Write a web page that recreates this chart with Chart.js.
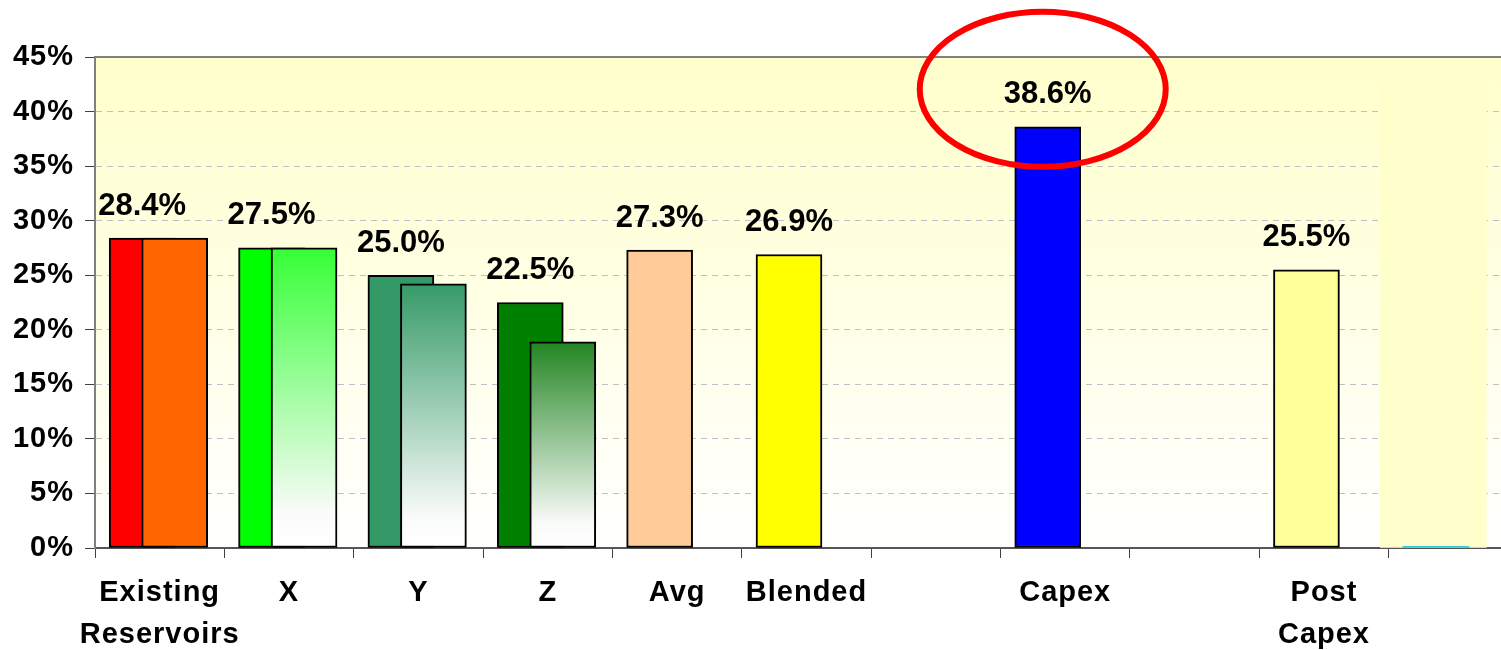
<!DOCTYPE html>
<html>
<head>
<meta charset="utf-8">
<script src="https://cdn.jsdelivr.net/npm/chart.js@4.4.1/dist/chart.umd.min.js"></script>
<style>
html,body{margin:0;padding:0;background:#fff;overflow:hidden;width:1501px;height:650px}
#wrap{width:1501px;height:650px;overflow:hidden;position:relative}
canvas{display:block}
</style>
</head>
<body>
<div id="wrap"><canvas id="c" width="1518" height="650"></canvas></div>
<script>
// ---- data ----
const categories = [['Existing','Reservoirs'], 'X', 'Y', 'Z', 'Avg', 'Blended', '', 'Capex', '', ['Post','Capex'], ''];
const primaryValues   = [28.4, 27.5, 25.0, 22.5, 27.3, 26.9, null, 38.6, null, 25.5, 0.15];
const secondaryValues = [28.4, 27.5, 24.2, 18.9, null, null, null, null, null, null, null];
const highlightValues = [null, null, null, null, null, null, null, null, null, null, 45];
const yTickValues = [0, 5, 10, 15, 20, 25, 30, 35, 40, 45];

// ---- styles ----
const primaryColors   = ['#FF0000', '#00FF00', '#339966', '#008000', '#FFCC99', '#FFFF00', '#000000', '#0000FF', '#000000', '#FFFF99', '#33CCCC'];
const primaryBorders  = [2, 2, 2, 2, 2, 2, 2, 2, 2, 2, 0];
const secondaryColors = ['#FF6600', '#36FF36', '#369A68', '#238523'];
const secondaryFade   = [false, true, true, true];

const FONT = "'Liberation Sans', Arial, Helvetica, sans-serif";
Chart.defaults.font.family = FONT;

function fadeFill(ctx) {
  const i = ctx.dataIndex;
  const base = secondaryColors[i] || '#000';
  if (!secondaryFade[i]) return base;
  const chart = ctx.chart;
  if (!chart.chartArea || !chart.scales.y) return base;
  const y = chart.scales.y;
  const top = y.getPixelForValue(secondaryValues[i]);
  const bottom = y.getPixelForValue(0);
  const g = chart.ctx.createLinearGradient(0, top, 0, bottom);
  g.addColorStop(0, base);
  g.addColorStop(0.88, '#F9FBF9');
  g.addColorStop(1, '#FFFFFF');
  return g;
}

const decorPlugin = {
  id: 'decor',
  beforeDraw(chart) {
    const {ctx, chartArea: a} = chart;
    ctx.save();
    const g = ctx.createLinearGradient(0, a.top, 0, a.bottom);
    g.addColorStop(0, '#FFFFCC');
    g.addColorStop(1, '#FFFFFF');
    ctx.fillStyle = g;
    ctx.fillRect(a.left, a.top, a.right - a.left, a.bottom - a.top);
    ctx.restore();
    ctx.letterSpacing = '1px';
  },
  afterDatasetsUpdate(chart) {
    chart.data.datasets.forEach((ds, i) => {
      const s = ds.xShift || 0;
      chart.getDatasetMeta(i).data.forEach(el => { el.x += s; });
    });
  },
  afterDatasetsDraw(chart) {
    const {ctx, chartArea: a} = chart;
    ctx.save();
    ctx.letterSpacing = '0px';
    // plot top border
    ctx.strokeStyle = '#808080';
    ctx.lineWidth = 2;
    ctx.beginPath();
    ctx.moveTo(a.left, a.top);
    ctx.lineTo(a.right, a.top);
    ctx.stroke();
    // value labels
    ctx.fillStyle = '#000';
    ctx.font = 'bold 31px ' + FONT;
    ctx.textAlign = 'center';
    ctx.textBaseline = 'alphabetic';
    const meta = chart.getDatasetMeta(1);
    meta.data.forEach((el, i) => {
      const v = primaryValues[i];
      if (v == null || v < 1) return;
      ctx.fillText(v.toFixed(1) + '%', el.x, el.y - 23.5);
    });
    ctx.restore();
  },
  afterDraw(chart) {
    const {ctx} = chart;
    const idx = categories.indexOf('Capex');
    const el = chart.getDatasetMeta(1).data[idx];
    ctx.save();
    ctx.letterSpacing = '0px';
    ctx.strokeStyle = '#FF0000';
    ctx.lineWidth = 6;
    ctx.beginPath();
    ctx.ellipse(el.x - 5, el.y - 37.5, 123, 77.5, 0, 0, Math.PI * 2);
    ctx.stroke();
    ctx.restore();
    ctx.letterSpacing = '0px';
  }
};

new Chart(document.getElementById('c'), {
  type: 'bar',
  data: {
    labels: categories,
    datasets: [
      {
        label: 'Secondary',
        data: secondaryValues,
        backgroundColor: fadeFill,
        borderColor: '#000',
        borderWidth: 2,
        borderSkipped: false,
        barThickness: 66,
        grouped: false,
        order: 0,
        xShift: 15
      },
      {
        label: 'Primary',
        data: primaryValues,
        backgroundColor: primaryColors,
        borderColor: '#000',
        borderWidth: primaryBorders,
        borderSkipped: false,
        barThickness: 66,
        grouped: false,
        order: 1,
        xShift: -17.5
      },
      {
        label: 'Highlight',
        data: highlightValues,
        backgroundColor: '#FFFFCC',
        borderWidth: 0,
        barThickness: 106,
        grouped: false,
        order: 2,
        xShift: -20
      }
    ]
  },
  options: {
    responsive: false,
    animation: false,
    devicePixelRatio: 1,
    layout: { padding: { top: 57, left: 0, right: 0, bottom: 0 } },
    plugins: { legend: { display: false }, tooltip: { enabled: false } },
    scales: {
      x: {
        type: 'category',
        offset: true,
        grid: { offset: true, drawOnChartArea: false, drawTicks: true, tickLength: 10, color: '#404040', lineWidth: 1 },
        border: { display: true, color: '#555555', width: 2 },
        ticks: {
          font: { size: 29, weight: 'bold', lineHeight: 1.45 },
          color: '#000',
          padding: 14,
          maxRotation: 0,
          minRotation: 0,
          autoSkip: false
        },
        afterFit(s) { s.height = 102; }
      },
      y: {
        min: 0,
        max: 45,
        afterBuildTicks(s) { s.ticks = yTickValues.map(v => ({ value: v })); },
        ticks: {
          callback: v => v + '%',
          font: { size: 29, weight: 'bold' },
          color: '#000',
          padding: 11
        },
        grid: { color: '#C0C0C8', lineWidth: 1, tickLength: 10, tickColor: '#404040', drawTicks: true },
        border: { display: true, color: '#808080', width: 2, dash: [6, 5] },
        afterFit(s) { s.width = 95; }
      }
    }
  },
  plugins: [decorPlugin]
});
</script>
</body>
</html>
